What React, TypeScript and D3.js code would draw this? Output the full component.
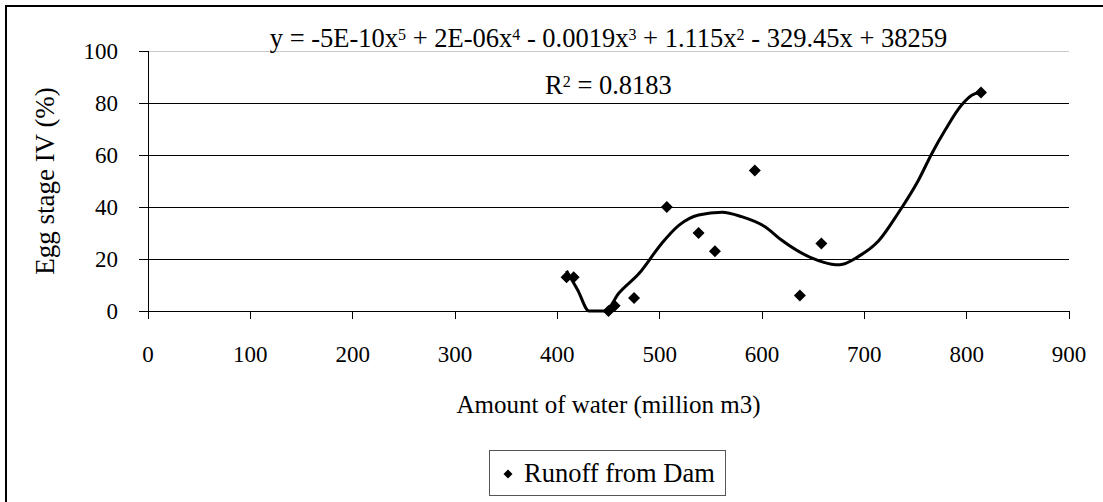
import React, { useMemo } from 'react';
import * as d3 from 'd3';

// Runoff from Dam: amount of water (million m3) vs egg stage IV (%)
const waterAmount = [409, 416, 450, 456, 475, 507, 538, 554, 593, 637, 658, 814];
const eggStageIV = [13, 13, 0, 2, 5, 40, 30, 23, 54, 6, 26, 84];

// 5th order polynomial trendline as drawn (clipped at 0 by the axis)
const trendX = [409, 420, 431, 447, 460, 480, 502, 519, 538, 561, 580, 603, 619, 649, 668, 676, 694, 714, 733, 753, 766, 779, 795, 805, 813];
const trendY = [15.5, 8, 0, 0, 6.8, 14.5, 26, 33, 36.9, 38, 36.3, 32.4, 27.3, 20.3, 18, 17.8, 20.9, 27, 37.6, 50.4, 60.6, 69.6, 79.2, 83, 84];

const xTicks = [0, 100, 200, 300, 400, 500, 600, 700, 800, 900];
const yTicks = [0, 20, 40, 60, 80, 100];

const W = 1103;
const H = 502;
const FONT = "'Liberation Serif', 'Times New Roman', 'DejaVu Serif', serif";

const App: React.FC = () => {
  const x = useMemo(() => d3.scaleLinear().domain([0, 900]).range([148, 1069]), []);
  const y = useMemo(() => d3.scaleLinear().domain([0, 100]).range([311, 51]), []);

  const trendPath = useMemo(() => {
    const pts = trendX.map((v, i) => [v, trendY[i]] as [number, number]);
    return d3.line<[number, number]>()
      .x(d => x(d[0]))
      .y(d => y(Math.max(0, d[1])))
      .curve(d3.curveMonotoneX)(pts) || '';
  }, [x, y]);

  const diamond = d3.symbol().type(d3.symbolSquare).size(72)() || '';
  const legendDiamond = d3.symbol().type(d3.symbolSquare).size(40)() || '';

  const cx = (x.range()[0] + x.range()[1]) / 2;
  const cy = (y.range()[0] + y.range()[1]) / 2;
  const txt = { fontFamily: FONT, fill: '#000' } as React.CSSProperties;
  const sup = { fontSize: 16, baselineShift: '45%' } as React.CSSProperties;

  return (
    <svg width={W} height={H} style={{ position: 'absolute', left: 0, top: 0, background: '#fff' }}>
      <rect x={0} y={0} width={W} height={H} fill="#fff" />
      <rect x={6} y={6} width={W + 10} height={H + 10} fill="none" stroke="#000" strokeWidth={2} />

      {/* gridlines */}
      {yTicks.map(t => (
        <line key={'g' + t} x1={x(0)} x2={x(900)} y1={y(t)} y2={y(t)}
          stroke={t === 100 ? '#c8c8c8' : '#000'} strokeWidth={1} shapeRendering="crispEdges" />
      ))}

      {/* y axis */}
      <line x1={x(0)} x2={x(0)} y1={y(0)} y2={y(100)} stroke="#000" shapeRendering="crispEdges" />
      {yTicks.map(t => (
        <g key={'y' + t}>
          <line x1={x(0) - 9} x2={x(0)} y1={y(t)} y2={y(t)} stroke="#000" shapeRendering="crispEdges" />
          <text x={118} y={y(t)} dy="0.35em" textAnchor="end" fontSize={23} style={txt}>{t}</text>
        </g>
      ))}

      {/* x axis */}
      <line x1={x(0)} x2={x(900)} y1={y(0)} y2={y(0)} stroke="#000" shapeRendering="crispEdges" />
      {xTicks.map(t => (
        <g key={'x' + t}>
          <line x1={x(t)} x2={x(t)} y1={y(0)} y2={y(0) + 8} stroke="#000" shapeRendering="crispEdges" />
          <text x={x(t)} y={362} textAnchor="middle" fontSize={23} style={txt}>{t}</text>
        </g>
      ))}

      {/* axis titles */}
      <text x={cx} y={413} textAnchor="middle" fontSize={25} style={txt}>Amount of water (million m3)</text>
      <text transform={`translate(54,${cy}) rotate(-90)`} textAnchor="middle" fontSize={27} style={txt}>Egg stage IV (%)</text>

      {/* trendline */}
      <path d={trendPath} fill="none" stroke="#000" strokeWidth={3} strokeLinejoin="round" />

      {/* points */}
      {waterAmount.map((v, i) => (
        <path key={'p' + i} d={diamond}
          transform={`translate(${x(v)},${y(eggStageIV[i])}) rotate(45)`} fill="#000" />
      ))}

      {/* equation */}
      <text x={cx} y={47} textAnchor="middle" fontSize={26.5} style={txt}>
        y = -5E-10x<tspan style={sup}>5</tspan> + 2E-06x<tspan style={sup}>4</tspan> - 0.0019x<tspan style={sup}>3</tspan> + 1.115x<tspan style={sup}>2</tspan> - 329.45x + 38259
      </text>
      <text x={cx} y={94} textAnchor="middle" fontSize={26.5} style={txt}>
        R<tspan style={sup}>2</tspan> = 0.8183
      </text>

      {/* legend */}
      <rect x={489.5} y={450.5} width={236} height={45} fill="#fff" stroke="#555" strokeWidth={1} />
      <path d={legendDiamond} transform="translate(508,474) rotate(45)" fill="#000" />
      <text x={524} y={482} fontSize={26.5} style={txt}>Runoff from Dam</text>
    </svg>
  );
};

export default App;
